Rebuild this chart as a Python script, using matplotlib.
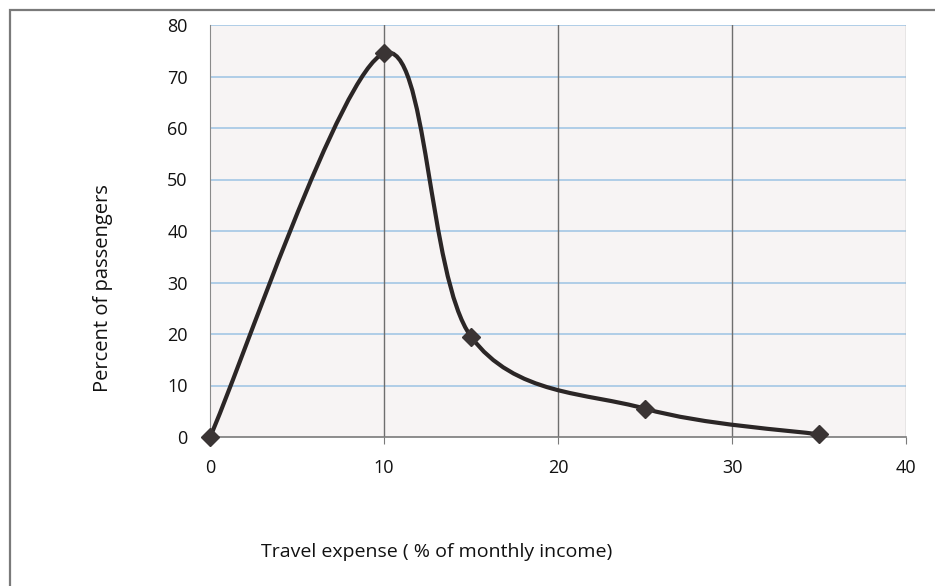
import matplotlib
matplotlib.use("Agg")
import matplotlib.pyplot as plt
from matplotlib.path import Path
from matplotlib.patches import PathPatch, Rectangle
import numpy as np

# Data
expense = [0, 10, 15, 25, 35]
passengers = [0, 74.5, 19.5, 5.5, 0.5]
x_ticks = [0, 10, 20, 30, 40]
y_ticks = [0, 10, 20, 30, 40, 50, 60, 70, 80]
x_label = "Travel expense ( % of monthly income)"
y_label = "Percent of passengers"

plt.rcParams['font.family'] = ['Open Sans', 'DejaVu Sans']

W, H = 935, 586
fig = plt.figure(figsize=(W / 100, H / 100), dpi=100)
fig.patch.set_facecolor('white')

# outer frame (chart border)
fig.patches.append(Rectangle((10 / W, -0.05), 1.2, 1 - 10 / H + 0.05,
                             transform=fig.transFigure, fill=False,
                             edgecolor='#7a7a7a', linewidth=1.6))

ax = fig.add_axes([210 / W, 1 - 437 / H, 696 / W, 412 / H])
ax.set_facecolor('#f7f4f4')
ax.set_xlim(0, 40)
ax.set_ylim(0, 80)

# gridlines
for yv in y_ticks[1:]:
    ax.axhline(yv, color='#9cc3e4', linewidth=1.1, zorder=1)
for xv in x_ticks[1:-1]:
    ax.axvline(xv, color='#6e6e6e', linewidth=1.0, zorder=1)

for s in ['top', 'right']:
    ax.spines[s].set_visible(False)
ax.spines['left'].set_color('#8a8a8a')
ax.spines['bottom'].set_color('#7a7a7a')
ax.spines['bottom'].set_linewidth(1.2)
ax.axvline(40, color='#a8a8a8', linewidth=1.0, zorder=1)

ax.set_xticks(x_ticks)
ax.set_yticks(y_ticks)
ax.tick_params(axis='x', length=5, color='#7a7a7a', labelsize=13, pad=11, labelcolor='#111111')
ax.tick_params(axis='y', length=0, labelsize=13, pad=16, labelcolor='#111111')

# smooth (Catmull-Rom style) line through the data points
pts = np.column_stack([expense, passengers]).astype(float)
verts = [pts[0]]
codes = [Path.MOVETO]
n = len(pts)
for i in range(n - 1):
    p0 = pts[i - 1] if i > 0 else pts[i]
    p1 = pts[i]
    p2 = pts[i + 1]
    p3 = pts[i + 2] if i + 2 < n else pts[i + 1]
    c1 = p1 + (p2 - p0) / 6.0
    c2 = p2 - (p3 - p1) / 6.0
    verts += [c1, c2, p2]
    codes += [Path.CURVE4] * 3
ax.add_patch(PathPatch(Path(verts, codes), facecolor='none',
                       edgecolor='#2b2626', linewidth=3.0, zorder=3,
                       clip_on=False))
ax.plot(expense, passengers, linestyle='none', marker='D', markersize=9.5,
        color='#3a3434', zorder=4, clip_on=False)

fig.text(437 / W, 1 - 552 / H, x_label, ha='center', va='center',
         fontsize=14, color='#111111')
fig.text(103 / W, 1 - 288 / H, y_label, ha='center', va='center',
         rotation=90, fontsize=14.5, color='#111111')

fig.savefig('out.png', dpi=100, facecolor='white')
